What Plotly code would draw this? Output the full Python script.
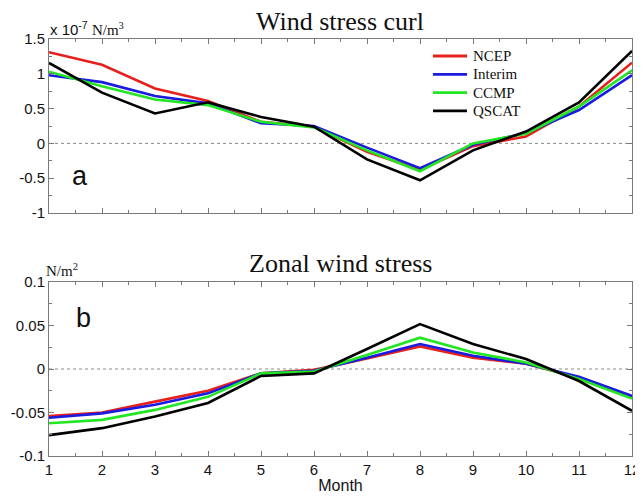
import plotly.graph_objects as go
from plotly.subplots import make_subplots

months = [1, 2, 3, 4, 5, 6, 7, 8, 9, 10, 11, 12]
series_names = ["NCEP", "Interim", "CCMP", "QSCAT"]
series_colors = ["#e8201c", "#1a1ae0", "#22e622", "#000000"]

# Wind stress curl (x 1e-7 N/m^3)
curl_ncep = [1.31, 1.13, 0.79, 0.61, 0.31, 0.24, -0.12, -0.38, -0.04, 0.10, 0.53, 1.16]
curl_interim = [0.98, 0.88, 0.68, 0.575, 0.29, 0.25, -0.06, -0.355, -0.02, 0.15, 0.48, 0.98]
curl_ccmp = [1.03, 0.82, 0.63, 0.55, 0.31, 0.23, -0.10, -0.40, 0.0, 0.14, 0.53, 1.05]
curl_qscat = [1.155, 0.73, 0.43, 0.59, 0.38, 0.24, -0.23, -0.53, -0.10, 0.17, 0.59, 1.33]

# Zonal wind stress (N/m^2)
zonal_ncep = [-0.054, -0.050, -0.0375, -0.025, -0.005, -0.001, 0.012, 0.026, 0.013, 0.006, -0.010, -0.032]
zonal_interim = [-0.056, -0.051, -0.041, -0.028, -0.005, -0.002, 0.013, 0.0287, 0.0153, 0.006, -0.009, -0.031]
zonal_ccmp = [-0.0623, -0.0585, -0.047, -0.032, -0.005, -0.003, 0.016, 0.036, 0.019, 0.0076, -0.0115, -0.034]
zonal_qscat = [-0.076, -0.068, -0.0547, -0.039, -0.008, -0.005, 0.023, 0.0516, 0.0287, 0.0115, -0.0138, -0.048]

curl_series = [curl_ncep, curl_interim, curl_ccmp, curl_qscat]
zonal_series = [zonal_ncep, zonal_interim, zonal_ccmp, zonal_qscat]

SANS = "Liberation Sans, Arial, sans-serif"
SERIF = "Liberation Serif, Times New Roman, serif"

OFF = 8  # default page body margin
W, H = 643 - OFF, 498 - OFF
ML, MT = 49 - OFF, 39 - OFF
PW, PH = 583, 417
MR, MB = W - ML - PW, H - MT - PH


def px_x(page_x):
    return (page_x - OFF - ML) / PW


def px_y(page_y):
    return 1 - (page_y - OFF - MT) / PH


fig = make_subplots(rows=2, cols=1, vertical_spacing=0.0)

for name, color, vals in zip(series_names, series_colors, curl_series):
    fig.add_trace(go.Scatter(x=months, y=vals, mode="lines", name=name, showlegend=False,
                             line=dict(color=color, width=2.6)), row=1, col=1)
for name, color, vals in zip(series_names, series_colors, zonal_series):
    fig.add_trace(go.Scatter(x=months, y=vals, mode="lines", name=name, showlegend=False,
                             line=dict(color=color, width=2.6)), row=2, col=1)

axis_common = dict(
    showline=True, linecolor="#7a7a7a", linewidth=1, mirror="allticks",
    ticks="inside", ticklen=5, tickcolor="#7a7a7a", showgrid=False, zeroline=False,
    automargin=False,
    minor=dict(ticks="inside", ticklen=3, tickcolor="#7a7a7a", showgrid=False),
    tickfont=dict(family=SANS, size=15, color="#111111"),
)

fig.update_xaxes(range=[1, 12], dtick=1, tick0=1, **axis_common)
fig.update_xaxes(minor_dtick=0.5, minor_tick0=1)
fig.update_xaxes(showticklabels=False, row=1, col=1)
fig.update_xaxes(title=dict(text="Month", font=dict(family=SANS, size=16, color="#111111"), standoff=2),
                 row=2, col=1)
fig.update_yaxes(**axis_common)
fig.update_yaxes(range=[-1, 1.5], minor=dict(dtick=0.25, tick0=0),
                 tickvals=[-1, -0.5, 0, 0.5, 1, 1.5], ticktext=["-1", "-0.5", "0", "0.5", "1", "1.5"],
                 row=1, col=1)
fig.update_yaxes(range=[-0.1, 0.1], minor=dict(dtick=0.025, tick0=0),
                 tickvals=[-0.1, -0.05, 0, 0.05, 0.1], ticktext=["-0.1", "-0.05", "0", "0.05", "0.1"],
                 row=2, col=1)

fig.update_layout(
    xaxis=dict(domain=[0, 1]), yaxis=dict(domain=[1 - 174 / PH, 1.0]),
    xaxis2=dict(domain=[0, 1]), yaxis2=dict(domain=[0.0, 174 / PH]),
)

# dotted zero reference lines
for xr, yr in [("x domain", "y"), ("x2 domain", "y2")]:
    fig.add_shape(type="line", xref=xr, yref=yr, x0=0, x1=1, y0=0, y1=0,
                  line=dict(color="#8a8a8a", width=1, dash="dot"), layer="below")

# titles
fig.add_annotation(text="Wind stress curl", xref="paper", yref="paper", x=px_x(340), y=px_y(21),
                   xanchor="center", yanchor="middle", showarrow=False,
                   font=dict(family=SERIF, size=26, color="#111111"))
fig.add_annotation(text="Zonal wind stress", xref="paper", yref="paper", x=px_x(340), y=px_y(263),
                   xanchor="center", yanchor="middle", showarrow=False,
                   font=dict(family=SERIF, size=26, color="#111111"))

# unit labels
fig.add_annotation(
    text="x 10<sup>-7</sup> <span style='font-family:Liberation Serif, serif'>N/m<sup>3</sup></span>",
    xref="paper", yref="paper", x=px_x(48), y=px_y(29), xanchor="left", yanchor="middle",
    showarrow=False, font=dict(family=SANS, size=15, color="#111111"))
fig.add_annotation(
    text="N/m<sup>2</sup>", xref="paper", yref="paper", x=px_x(44), y=px_y(270),
    xanchor="left", yanchor="middle", showarrow=False,
    font=dict(family=SERIF, size=15, color="#111111"))

# panel letters
fig.add_annotation(text="a", xref="paper", yref="paper", x=px_x(80), y=px_y(176),
                   xanchor="center", yanchor="middle", showarrow=False,
                   font=dict(family=SANS, size=27, color="#111111"))
fig.add_annotation(text="b", xref="paper", yref="paper", x=px_x(83), y=px_y(318),
                   xanchor="center", yanchor="middle", showarrow=False,
                   font=dict(family=SANS, size=27, color="#111111"))

# legend (drawn as key swatches + labels)
for i, (name, color) in enumerate(zip(series_names, series_colors)):
    py = 56 + 18.3 * i
    fig.add_shape(type="line", xref="paper", yref="paper", x0=px_x(433), x1=px_x(467),
                  y0=px_y(py), y1=px_y(py), line=dict(color=color, width=2.8))
    fig.add_annotation(text=name, xref="paper", yref="paper", x=px_x(471), y=px_y(py),
                       xanchor="left", yanchor="middle", showarrow=False,
                       font=dict(family=SERIF, size=15, color="#111111"))

fig.update_layout(
    width=W, height=H,
    margin=dict(l=ML, r=MR, t=MT, b=MB, autoexpand=False),
    paper_bgcolor="white", plot_bgcolor="white",
    showlegend=False,
)

fig.write_html("out.html")
